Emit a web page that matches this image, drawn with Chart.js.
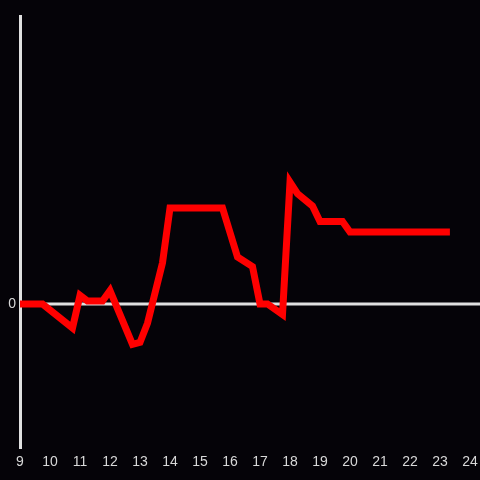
<!DOCTYPE html>
<html>
<head>
<meta charset="utf-8">
<script src="https://cdn.jsdelivr.net/npm/chart.js@4"></script>
<style>
  html, body { margin: 0; padding: 0; background: #050308; }
  #wrap { width: 480px; height: 480px; }
</style>
</head>
<body>
<div id="wrap"><canvas id="chart"></canvas></div>
<script>
const hours = [9, 9.75, 10.75, 11, 11.25, 11.75, 12, 12.75, 13, 13.25, 13.75, 14, 15.75, 16.25, 16.75, 17, 17.25, 17.75, 18, 18.25, 18.75, 19, 19.75, 20, 23.33];
const values = [0, 0, -0.25, 0.09, 0.03, 0.03, 0.14, -0.42, -0.4, -0.2, 0.43, 1.0, 1.0, 0.49, 0.39, 0.0, 0.0, -0.11, 1.27, 1.15, 1.02, 0.86, 0.86, 0.75, 0.75];
const xTicks = [9, 10, 11, 12, 13, 14, 15, 16, 17, 18, 19, 20, 21, 22, 23, 24];

const axisColor = '#e0e0e0';

const bgPlugin = {
  id: 'bg',
  beforeDraw(chart) {
    const c = chart.ctx;
    c.save();
    c.fillStyle = '#050308';
    c.fillRect(0, 0, chart.width, chart.height);
    c.restore();
  },
  beforeDatasetsDraw(chart) {
    // zero line runs past the plot area to the canvas edge
    const c = chart.ctx;
    const y = Math.round(chart.scales.y.getPixelForValue(0));
    c.save();
    c.strokeStyle = axisColor;
    c.lineWidth = 3;
    c.beginPath();
    c.moveTo(chart.chartArea.left, y);
    c.lineTo(chart.width, y);
    c.stroke();
    c.restore();
  }
};

new Chart(document.getElementById('chart').getContext('2d'), {
  type: 'line',
  data: {
    datasets: [{
      data: hours.map((h, i) => ({ x: h, y: values[i] })),
      borderColor: '#ff0000',
      borderWidth: 7,
      pointRadius: 0,
      tension: 0,
      borderJoinStyle: 'miter',
      fill: false
    }]
  },
  options: {
    responsive: true,
    maintainAspectRatio: false,
    animation: false,
    layout: { padding: { top: 16, right: 0, left: 0, bottom: 0 } },
    plugins: { legend: { display: false }, tooltip: { enabled: false } },
    scales: {
      x: {
        type: 'linear',
        min: 9,
        max: 24,
        afterBuildTicks(axis) { axis.ticks = xTicks.map(v => ({ value: v })); },
        afterFit(axis) {
          axis.height = 32;
          axis.paddingLeft = 0;
          axis.paddingRight = 10;
        },
        grid: { display: false, drawTicks: false },
        border: { display: false },
        ticks: {
          color: '#d8d8d8',
          font: { family: 'Liberation Sans', size: 14 },
          padding: 6,
          maxRotation: 0,
          autoSkip: false
        }
      },
      y: {
        min: -1.5,
        max: 3,
        afterBuildTicks(axis) { axis.ticks = [{ value: 0 }]; },
        afterFit(axis) { axis.width = 20; },
        grid: { display: false, drawTicks: false },
        border: { display: true, color: axisColor, width: 3 },
        ticks: {
          color: '#d8d8d8',
          font: { family: 'Liberation Sans', size: 14 },
          padding: 4
        }
      }
    }
  },
  plugins: [bgPlugin]
});
</script>
</body>
</html>
